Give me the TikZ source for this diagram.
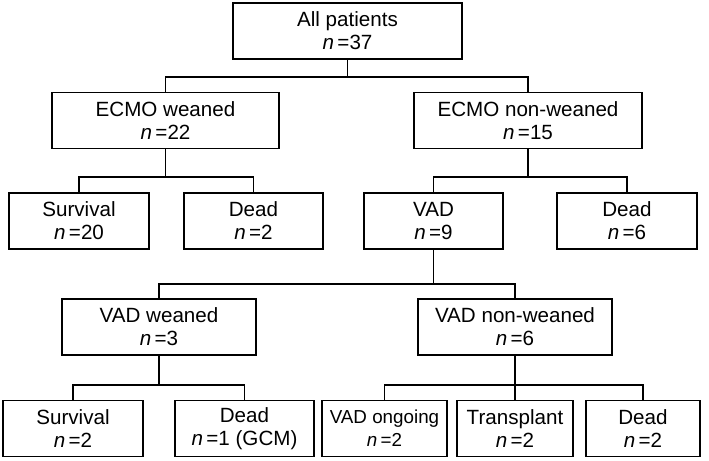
\documentclass[tikz,border=0pt]{standalone}
\usepackage{fontspec}
\setmainfont{Liberation Sans}
\usetikzlibrary{positioning}

\newcommand{\nn}[1]{\textit{n}\,=#1}

\begin{document}
\begin{tikzpicture}[
    x=0.5pt, y=-0.5pt,
    box/.style={draw, line width=0.8pt, align=center, inner sep=0pt,
        minimum height=28pt, font=\fontsize{10.3}{11.5}\selectfont},
    link/.style={line width=0.8pt}]
    \useasboundingbox (0,0) rectangle (709,461);

    % level 0 and 1
    \node[box, minimum width=114.5pt] (all) at (347.5,31) {All patients\\\nn{37}};
    \node[box, minimum width=113.5pt] (ew) at (165.5,120.5) {ECMO weaned\\\nn{22}};
    \node[box, minimum width=114pt] (enw) at (528,120.5) {ECMO non-weaned\\\nn{15}};

    % level 2
    \node[box, minimum width=70pt] (surv1) at (79,221) {Survival\\\nn{20}};
    \node[box, minimum width=69.5pt] (dead1) at (253.5,221) {Dead\\\nn{2}};
    \node[box, minimum width=69.5pt] (vad) at (433.5,221) {VAD\\\nn{9}};
    \node[box, minimum width=70pt] (dead2) at (627,221) {Dead\\\nn{6}};

    % level 3
    \node[box, minimum width=97pt] (vw) at (159,327) {VAD weaned\\\nn{3}};
    \node[box, minimum width=97pt] (vnw) at (515,327) {VAD non-weaned\\\nn{6}};

    % level 4
    \node[box, minimum width=70pt] (surv2) at (73,428.5) {Survival\\\nn{2}};
    \node[box, minimum width=69.5pt] (dead3) at (244.5,428.5) {Dead\\\nn{1} (GCM)};
    \node[box, minimum width=62.5pt, font=\fontsize{9.4}{11.5}\selectfont] (vadon) at (384.5,428.5) {VAD ongoing\\\nn{2}};
    \node[box, minimum width=58pt] (trans) at (515,428.5) {Transplant\\\nn{2}};
    \node[box, minimum width=57pt] (dead4) at (643,428.5) {Dead\\\nn{2}};

    % junctions
    \coordinate (j1) at (347.5,77);
    \coordinate (j2) at (165.5,177);
    \coordinate (j3) at (528,177);
    \coordinate (j4) at (433.5,284);
    \coordinate (j5) at (159,385);
    \coordinate (j6) at (515,385);

    \draw[link] (all.south) -- (j1);
    \draw[link] (ew.north) |- (j1) -| (enw.north);
    \draw[link] (ew.south) -- (j2);
    \draw[link] (surv1.north) |- (j2) -| (dead1.north);
    \draw[link] (enw.south) -- (j3);
    \draw[link] (vad.north) |- (j3) -| (dead2.north);
    \draw[link] (vad.south) -- (j4);
    \draw[link] (vw.north) |- (j4) -| (vnw.north);
    \draw[link] (vw.south) -- (j5);
    \draw[link] (surv2.north) |- (j5) -| (dead3.north);
    \draw[link] (vnw.south) -- (trans.north);
    \draw[link] (vadon.north) |- (j6) -| (dead4.north);
\end{tikzpicture}
\end{document}
